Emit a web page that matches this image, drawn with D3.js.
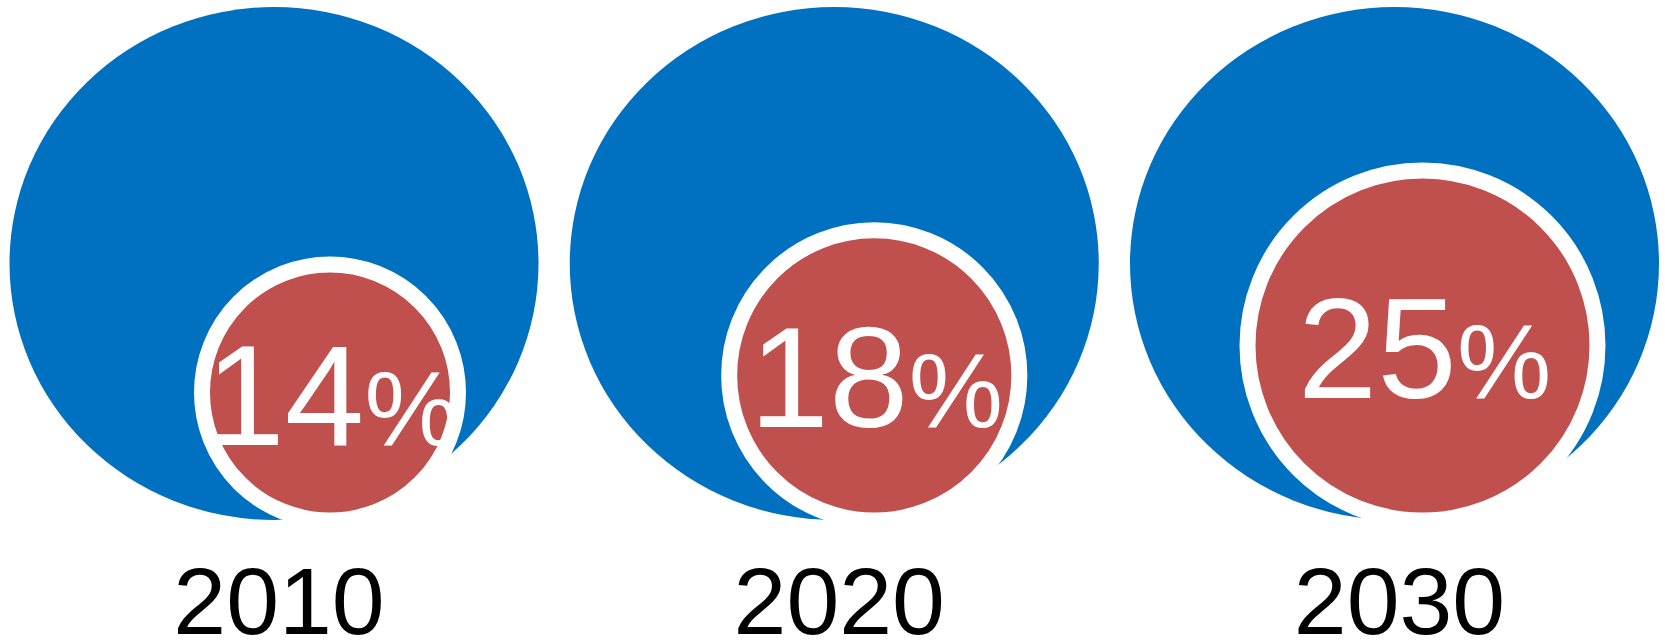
<!DOCTYPE html>
<html>
<head>
<meta charset="utf-8">
<script src="https://cdn.jsdelivr.net/npm/d3@7"></script>
<style>
  html, body { margin: 0; padding: 0; background: #fff; }
  svg { display: block; width: 1665px; height: 640px; }
  text { font-family: "Liberation Sans", Arial, Helvetica, sans-serif; }
  .value { fill: #fff; }
  .year { fill: #000; font-size: 95px; }
</style>
</head>
<body>
<svg></svg>
<script>
const years = ['2010', '2020', '2030']
const shares = [14, 18, 25]
const redShift = [56, 40, 28] // how far the red disc sits right of the blue centre

const data = years.map((year, i) => ({ year, share: shares[i], shift: redShift[i] }))

draw(data)

function draw (data) {
  const dim = setDimensions()
  const scales = setScales(data, dim)
  const svg = d3.select('svg').attr('viewBox', `0 0 ${dim.width} ${dim.height}`)

  drawBlue(svg, data, scales, dim)
  drawRed(svg, data, scales, dim)
  drawValues(svg, data, scales, dim)
  drawYears(svg, data, scales, dim)
}

function setDimensions () {
  return {
    width: 1665,
    height: 640,
    blue: { cy: 263.5, rx: 264.5, ry: 256.5 },
    redBottom: 512.5,
    ring: 16,
    yearBaseline: 634
  }
}

function setScales (data, dim) {
  const x = d3.scalePoint()
    .domain(data.map(d => d.year))
    .range([274, 1394.5])

  const r = d3.scaleLinear() // disc radius from the share
    .domain([14, 25])
    .range([120, 167])

  return { x, r }
}

function redCentre (d, { x, r }, dim) {
  return { cx: x(d.year) + d.shift, cy: dim.redBottom - r(d.share) }
}

function drawBlue (svg, data, { x }, dim) {
  svg.append('g')
    .selectAll('ellipse')
    .data(data)
    .join('ellipse')
      .attr('cx', d => x(d.year))
      .attr('cy', dim.blue.cy)
      .attr('rx', dim.blue.rx)
      .attr('ry', dim.blue.ry)
      .attr('fill', '#0070C0')
}

function drawRed (svg, data, scales, dim) {
  svg.append('g')
    .selectAll('circle')
    .data(data)
    .join('circle')
      .attr('cx', d => redCentre(d, scales, dim).cx)
      .attr('cy', d => redCentre(d, scales, dim).cy)
      .attr('r', d => scales.r(d.share) + dim.ring / 2)
      .attr('fill', '#C0504D')
      .attr('stroke', '#fff')
      .attr('stroke-width', dim.ring)
}

function drawValues (svg, data, scales, dim) {
  const t = svg.append('g')
    .selectAll('text')
    .data(data)
    .join('text')
      .attr('class', 'value')
      .attr('text-anchor', 'middle')
      .attr('x', d => redCentre(d, scales, dim).cx + 2)
      .attr('y', d => redCentre(d, scales, dim).cy + 52)

  t.append('tspan')
    .attr('font-size', 143)
    .text(d => d.share)

  t.append('tspan')
    .attr('font-size', 106)
    .text('%')
}

function drawYears (svg, data, { x }, dim) {
  svg.append('g')
    .selectAll('text')
    .data(data)
    .join('text')
      .attr('class', 'year')
      .attr('text-anchor', 'middle')
      .attr('x', d => x(d.year) + 5)
      .attr('y', dim.yearBaseline)
      .text(d => d.year)
}
</script>
</body>
</html>
